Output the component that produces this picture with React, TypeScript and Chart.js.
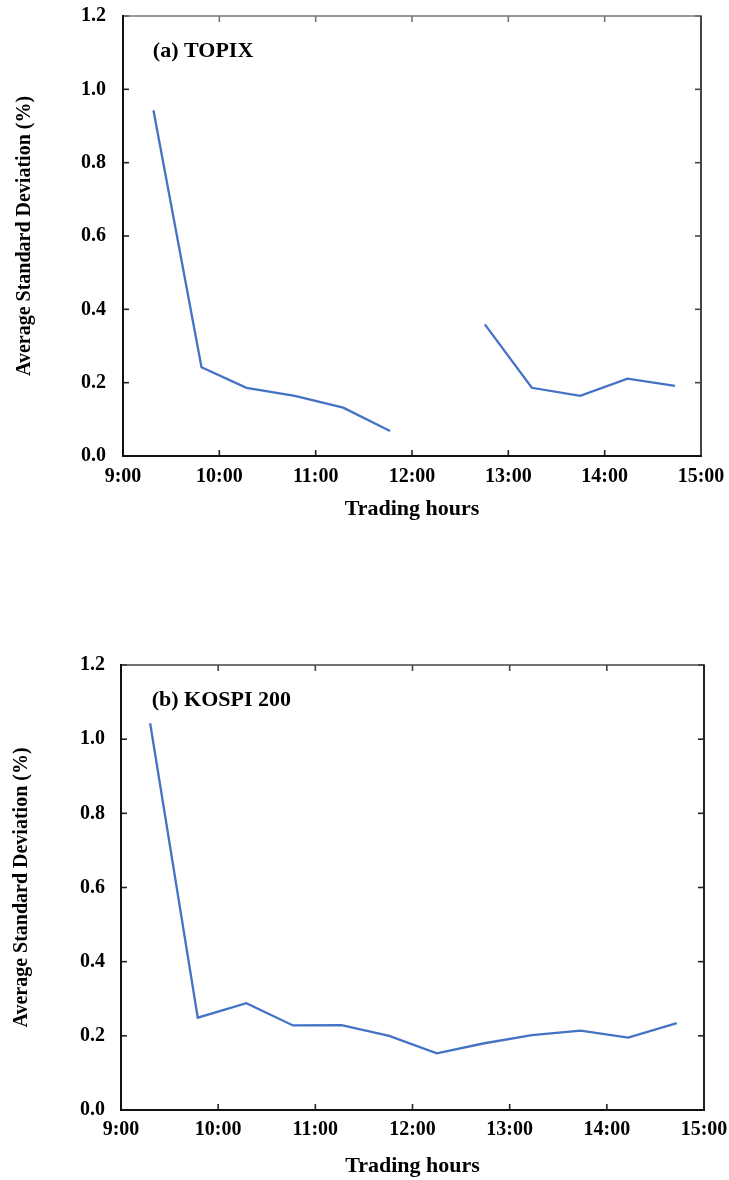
import React, { useEffect, useRef } from "react";
import { Chart, registerables } from "chart.js";

Chart.register(...registerables);

// ---- data ----
const TIMES_A = [9.316, 9.815, 10.282, 10.784, 11.286, 11.772, 12.25, 12.756, 13.244, 13.746, 14.237, 14.73];
const TOPIX = [0.943, 0.242, 0.186, 0.164, 0.132, 0.068, null, 0.359, 0.186, 0.164, 0.211, 0.191];

const TIMES_B = [9.30, 9.79, 10.29, 10.77, 11.27, 11.76, 12.25, 12.74, 13.23, 13.73, 14.22, 14.72];
const KOSPI = [1.043, 0.249, 0.288, 0.228, 0.229, 0.2, 0.153, 0.18, 0.202, 0.214, 0.195, 0.234];

const Y_MIN = 0;
const Y_MAX = 1.2;
const Y_STEP = 0.2;
const X_MIN = 9;
const X_MAX = 15;
const X_STEP = 1;

const X_TITLE = "Trading hours";
const Y_TITLE = "Average Standard Deviation (%)";
const LABEL_A = "(a) TOPIX";
const LABEL_B = "(b) KOSPI 200";
const LABEL_POS_A = [9.31, 1.104];
const LABEL_POS_B = [9.316, 1.106];

const FONT = '"Liberation Serif", "Times New Roman", serif';
const LINE_COLOR = "#4472C4";

const framePlugin = {
  id: "frame",
  afterDatasetsDraw(chart: any, _args: any, opts: any) {
    const { ctx, chartArea, scales } = chart;
    const { left, right, top, bottom } = chartArea;
    const xs = scales.x;
    const ys = scales.y;
    const tl = 6;
    ctx.save();
    ctx.lineCap = "butt";
    const seg = (x1: number, y1: number, x2: number, y2: number, c: string, w: number) => {
      ctx.beginPath();
      ctx.strokeStyle = c;
      ctx.lineWidth = w;
      ctx.moveTo(x1, y1);
      ctx.lineTo(x2, y2);
      ctx.stroke();
    };
    ys.ticks.forEach((t: any) => {
      const py = ys.getPixelForValue(t.value);
      seg(left, py, left + tl, py, "#222", 1.6);
      seg(right, py, right - tl, py, opts.rightColor, 1.6);
    });
    xs.ticks.forEach((t: any) => {
      const px = xs.getPixelForValue(t.value);
      seg(px, bottom, px, bottom - tl, "#222", 1.6);
      seg(px, top, px, top + tl, opts.topColor, 1.6);
    });
    seg(left - 1, top, right + 1, top, opts.topColor, 1.6);
    seg(right, top, right, bottom + 1, opts.rightColor, 2);
    seg(left, top - 1, left, bottom + 1, "#111", 2);
    seg(left - 1, bottom, right + 1, bottom, "#111", 2);

    ctx.font = `bold 22px ${FONT}`;
    ctx.fillStyle = "#000";
    ctx.textAlign = "left";
    ctx.textBaseline = "middle";
    ctx.fillText(opts.label, xs.getPixelForValue(opts.lx), ys.getPixelForValue(opts.ly));
    ctx.restore();
  },
};

type PanelProps = {
  times: number[];
  values: (number | null)[];
  label: string;
  labelPos: number[];
  width: number;
  height: number;
  areaLeft: number;
  areaRight: number;
  areaTop: number;
  areaBottom: number;
  xTitleBottomPad: number;
  yTitleTopPad: number;
  xTickPad: number;
  yTickPad: number;
  topColor: string;
  rightColor: string;
  top: number;
};

function Panel(p: PanelProps) {
  const ref = useRef<HTMLCanvasElement | null>(null);
  useEffect(() => {
    if (!ref.current) return;
    const data = p.times.map((t, i) => ({ x: t, y: p.values[i] }));
    const chart = new Chart(ref.current, {
      type: "line",
      data: {
        datasets: [
          {
            data: data as any,
            borderColor: LINE_COLOR,
            borderWidth: 2.3,
            pointRadius: 0,
            pointHoverRadius: 0,
            tension: 0,
            spanGaps: false,
            fill: false,
          },
        ],
      },
      options: {
        responsive: false,
        animation: false,
        devicePixelRatio: 1,
        layout: {
          padding: { left: 0, top: p.areaTop, right: p.width - p.areaRight, bottom: 0 },
        },
        plugins: {
          legend: { display: false },
          tooltip: { enabled: false },
          frame: {
            label: p.label,
            lx: p.labelPos[0],
            ly: p.labelPos[1],
            topColor: p.topColor,
            rightColor: p.rightColor,
          },
        } as any,
        scales: {
          x: {
            type: "linear",
            min: X_MIN,
            max: X_MAX,
            grid: { display: false, drawTicks: false },
            border: { display: false },
            ticks: {
              stepSize: X_STEP,
              color: "#000",
              padding: p.xTickPad,
              maxRotation: 0,
              font: { family: FONT, size: 20, weight: "bold" },
              callback: (v: any) => `${v}:00`,
            },
            title: {
              display: true,
              text: X_TITLE,
              color: "#000",
              font: { family: FONT, size: 22, weight: "bold" },
              padding: { top: 0, bottom: p.xTitleBottomPad },
            },
            afterFit: (s: any) => {
              s.height = p.height - p.areaBottom;
              s.paddingLeft = 0;
              s.paddingRight = 0;
            },
          },
          y: {
            min: Y_MIN,
            max: Y_MAX,
            grid: { display: false, drawTicks: false },
            border: { display: false },
            ticks: {
              stepSize: Y_STEP,
              color: "#000",
              padding: p.yTickPad,
              font: { family: FONT, size: 20, weight: "bold" },
              callback: (v: any) => Number(v).toFixed(1),
            },
            title: {
              display: true,
              text: Y_TITLE,
              color: "#000",
              font: { family: FONT, size: 20, weight: "bold" },
              padding: { top: p.yTitleTopPad, bottom: 0 },
            },
            afterFit: (s: any) => {
              s.width = p.areaLeft;
              s.paddingTop = 0;
              s.paddingBottom = 0;
            },
          },
        },
      },
      plugins: [framePlugin as any],
    });
    return () => chart.destroy();
  }, []);
  return (
    <canvas
      ref={ref}
      width={p.width}
      height={p.height}
      style={{ position: "absolute", left: 0, top: p.top, width: p.width, height: p.height }}
    />
  );
}

export default function App() {
  return (
    <div style={{ position: "absolute", left: 0, top: 0, width: 729, height: 1180, background: "#fff" }}>
      <Panel
        times={TIMES_A}
        values={TOPIX}
        label={LABEL_A}
        labelPos={LABEL_POS_A}
        width={729}
        height={540}
        areaLeft={123}
        areaRight={701}
        areaTop={16}
        areaBottom={456}
        xTitleBottomPad={17}
        yTitleTopPad={13}
        xTickPad={9}
        yTickPad={17}
        topColor="#777"
        rightColor="#444"
        top={0}
      />
      <Panel
        times={TIMES_B}
        values={KOSPI}
        label={LABEL_B}
        labelPos={LABEL_POS_B}
        width={729}
        height={560}
        areaLeft={121}
        areaRight={704}
        areaTop={45}
        areaBottom={490}
        xTitleBottomPad={0}
        yTitleTopPad={10}
        xTickPad={8}
        yTickPad={16}
        topColor="#444"
        rightColor="#222"
        top={620}
      />
    </div>
  );
}
